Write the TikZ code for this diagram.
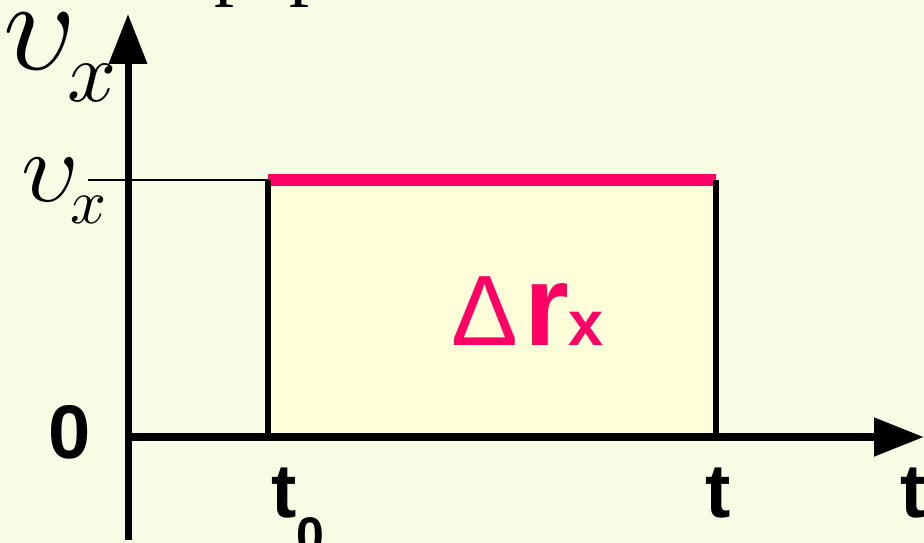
\documentclass[tikz,border=0pt]{standalone}
\usepackage{graphicx}
\usepackage{fontspec}
\setmainfont{Liberation Serif}
\newfontfamily\labelfont{Liberation Sans}
\usepackage{tikz}
\usetikzlibrary{arrows.meta}

\definecolor{bgyellow}{HTML}{F8FCE4}
\definecolor{areayellow}{HTML}{FFFFDA}
\definecolor{hotpink}{HTML}{FF0066}

\begin{document}
\begin{tikzpicture}[
    x=1pt, y=-1pt,
    axis/.style={line width=7pt, -{Triangle[length=50pt, width=37pt]}},
    edge/.style={line width=6pt},
    guide/.style={line width=2pt},
    tick/.style={inner sep=0pt, anchor=base, font=\labelfont\bfseries\fontsize{76}{76}\selectfont},
    sym/.style={inner sep=0pt, anchor=base}
  ]
    \useasboundingbox[fill=bgyellow] (0,0) rectangle (924,543);

    \coordinate (ytop) at (128,14);
    \coordinate (ybot) at (128,540);
    \coordinate (xleft) at (125,437);
    \coordinate (xright) at (924,437);
    \coordinate (a0) at (268,437);
    \coordinate (a1) at (716,437);
    \coordinate (b0) at (268,180);
    \coordinate (b1) at (716,180);
    \coordinate (g0) at (88,180);

    % area under the line
    \fill[areayellow] (b0) rectangle (a1);
    \draw[hotpink, line width=12pt] (b0) -- (b1);
    \draw[guide] (g0) -- (b0);
    \draw[edge] (b0) -- (a0);
    \draw[edge] (b1) -- (a1);

    \draw[axis] (ybot) -- (ytop);
    \draw[axis, line width=8pt] (xleft) -- (xright);

    % cut-off text at the top edge
    \node[sym, anchor=base west, font=\fontsize{80}{80}\selectfont] (topa) at (214,-9) {p};
    \node[sym, anchor=base west, font=\fontsize{80}{80}\selectfont] (topb) at (289,-9) {p};

    \node[sym] (vx) at (40,70) {\scalebox{12.6}[13]{$\upsilon$}};
    \node[sym] (vxsub) at (92,101) {\scalebox{8.6}{$x$}};
    \node[sym] (vval) at (50,201) {\scalebox{10}{$\upsilon$}};
    \node[sym] (vvalsub) at (89,223) {\scalebox{6.3}{$x$}};

    \node[tick] (zero) at (70,458) {0};
    \node[tick] (tzero) at (284,517) {t};
    \node[tick, font=\labelfont\bfseries\fontsize{50}{50}\selectfont] (tzerosub) at (310,552) {0};
    \node[tick] (tend) at (718,517) {t};
    \node[tick, anchor=base west] (taxis) at (900,517) {t};

    \node[sym, anchor=base west, text=hotpink] (drx) at (451,345)
      {{\labelfont\fontsize{100}{100}\selectfont Δ}\hspace{6pt}{\labelfont\bfseries\fontsize{115}{115}\selectfont r}{\labelfont\bfseries\fontsize{63}{63}\selectfont x}};
  \end{tikzpicture}
\end{document}
